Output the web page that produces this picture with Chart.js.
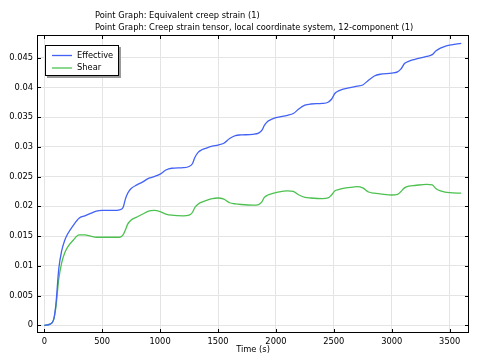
<!DOCTYPE html>
<html><head><meta charset="utf-8">
<script src="https://cdn.jsdelivr.net/npm/chart.js@4/dist/chart.umd.min.js"></script>
<style>html,body{margin:0;padding:0;background:#fff}canvas{display:block}</style>
</head><body>
<canvas id="c" width="478" height="360"></canvas>
<script>
const titleLines = ["Point Graph: Equivalent creep strain (1)", "Point Graph: Creep strain tensor, local coordinate system, 12-component (1)"];
const xLabel = "Time (s)";
const seriesNames = ["Effective", "Shear"];
const time = [0,50,80,100,125,150,175,200,250,300,350,400,450,500,600,650,680,700,720,750,800,850,900,950,1000,1050,1100,1200,1250,1280,1300,1330,1360,1400,1450,1500,1550,1600,1650,1700,1800,1850,1880,1900,1930,1960,2000,2100,2150,2200,2250,2300,2400,2450,2480,2510,2540,2580,2650,2700,2750,2800,2850,2900,3000,3050,3080,3110,3150,3200,3300,3350,3380,3420,3460,3500,3600];
const effective = [0,0.0002,0.0009,0.0035,0.0095,0.0125,0.0142,0.0153,0.0168,0.0180,0.0184,0.0188,0.0192,0.0193,0.0193,0.0194,0.0198,0.0212,0.0222,0.0230,0.0236,0.0241,0.0247,0.0250,0.0254,0.0261,0.0264,0.0265,0.0267,0.0272,0.0282,0.0291,0.0295,0.0298,0.0301,0.0303,0.0306,0.0314,0.0319,0.0320,0.0321,0.0323,0.0328,0.0336,0.0343,0.0346,0.0349,0.0353,0.0356,0.0364,0.0370,0.0372,0.0373,0.0375,0.0380,0.0390,0.0394,0.0397,0.0400,0.0402,0.0404,0.0412,0.0419,0.0422,0.0424,0.0426,0.0431,0.0440,0.0444,0.0447,0.0452,0.0455,0.0461,0.0466,0.0469,0.0471,0.0474];
const shear = [0,0.0002,0.0009,0.0030,0.0078,0.0105,0.0121,0.0131,0.0143,0.0152,0.0152,0.0150,0.0148,0.0148,0.0148,0.0148,0.0152,0.0160,0.0170,0.0177,0.0182,0.0187,0.0192,0.0193,0.0191,0.0187,0.0185,0.0184,0.0185,0.0190,0.0198,0.0204,0.0207,0.0210,0.0213,0.0214,0.0212,0.0206,0.0204,0.0203,0.0202,0.0203,0.0208,0.0215,0.0219,0.0221,0.0223,0.0226,0.0225,0.0219,0.0215,0.0214,0.0213,0.0214,0.0219,0.0226,0.0228,0.0230,0.0232,0.0233,0.0231,0.0224,0.0222,0.0221,0.0219,0.0220,0.0225,0.0231,0.0234,0.0235,0.0237,0.0236,0.0230,0.0226,0.0224,0.0223,0.0222];
const xTicks = [0,500,1000,1500,2000,2500,3000,3500];
const yTicks = [0,0.005,0.01,0.015,0.02,0.025,0.03,0.035,0.04,0.045];
const colors = ["#4262f5", "#4cc150"];

const FONT = "DejaVu Sans";
const FS = 8.3;
const pts = arr => time.map((t,i)=>({x:t,y:arr[i]}));

const frame = {
  id:'frame',
  afterDraw(chart){
    const {ctx, chartArea:a, scales:{x,y}} = chart;
    ctx.save();
    ctx.strokeStyle = '#000'; ctx.lineWidth = 1;
    ctx.strokeRect(a.left+0.5, a.top+0.5, a.right-a.left-1, a.bottom-a.top-1);
    ctx.beginPath();
    xTicks.forEach(v=>{const px=Math.round(x.getPixelForValue(v))+0.5;
      ctx.moveTo(px,a.bottom); ctx.lineTo(px,a.bottom-4);
      ctx.moveTo(px,a.top); ctx.lineTo(px,a.top+4);});
    yTicks.forEach(v=>{const py=Math.round(y.getPixelForValue(v))+0.5;
      ctx.moveTo(a.left,py); ctx.lineTo(a.left+4,py);
      ctx.moveTo(a.right,py); ctx.lineTo(a.right-4,py);});
    ctx.stroke();
    // titles
    ctx.fillStyle = '#000';
    ctx.font = FS+'px "'+FONT+'"';
    ctx.textBaseline = 'middle'; ctx.textAlign = 'left';
    ctx.fillText(titleLines[0], 95, 16);
    ctx.fillText(titleLines[1], 95, 28);
    ctx.textAlign = 'center';
    ctx.fillText(xLabel, (a.left+a.right)/2, 350);
    // legend
    const lx = 45, ly = 45, lw = 74, lh = 31;
    ctx.fillStyle = '#9a9a9a';
    ctx.fillRect(lx+2, ly+2, lw, lh);
    ctx.fillStyle = '#fff';
    ctx.fillRect(lx, ly, lw, lh);
    ctx.strokeStyle = '#000';
    ctx.strokeRect(lx+0.5, ly+0.5, lw-1, lh-1);
    ctx.textAlign = 'left';
    seriesNames.forEach((n,i)=>{
      const yy = ly + 10 + i*12.5;
      ctx.strokeStyle = colors[i]; ctx.lineWidth = 1.3;
      ctx.beginPath(); ctx.moveTo(lx+7, yy+0.5); ctx.lineTo(lx+27, yy+0.5); ctx.stroke();
      ctx.fillStyle = '#000';
      ctx.fillText(n, lx+32, yy+0.5);
    });
    ctx.restore();
  }
};

new Chart(document.getElementById('c'), {
  type:'line',
  data:{datasets:[
    {label:seriesNames[0], data:pts(effective), borderColor:colors[0], borderWidth:1.3, pointRadius:0, tension:0.4, cubicInterpolationMode:'monotone', fill:false},
    {label:seriesNames[1], data:pts(shear), borderColor:colors[1], borderWidth:1.3, pointRadius:0, tension:0.4, cubicInterpolationMode:'monotone', fill:false}
  ]},
  options:{
    responsive:false, animation:false, devicePixelRatio:1,
    layout:{padding:{top:35,right:9,left:0,bottom:0}},
    plugins:{legend:{display:false}, title:{display:false}, tooltip:{enabled:false}},
    scales:{
      x:{type:'linear', min:-63, max:3667,
        afterBuildTicks(s){s.ticks = xTicks.map(v=>({value:v}));},
        afterFit(s){s.height = 27;},
        grid:{color:'#e4e4e4', drawTicks:false}, border:{display:false},
        ticks:{padding:4, color:'#000', font:{family:FONT, size:FS}, maxRotation:0, autoSkip:false,
          callback:v=>String(v)}},
      y:{type:'linear', min:-0.0013, max:0.0488,
        afterBuildTicks(s){s.ticks = yTicks.map(v=>({value:v}));},
        afterFit(s){s.width = 37;},
        grid:{color:'#e4e4e4', drawTicks:false}, border:{display:false},
        ticks:{padding:4, color:'#000', font:{family:FONT, size:FS}, autoSkip:false,
          callback:v=>String(parseFloat(v.toFixed(4)))}}
    }
  },
  plugins:[frame]
});
</script>
</body></html>
